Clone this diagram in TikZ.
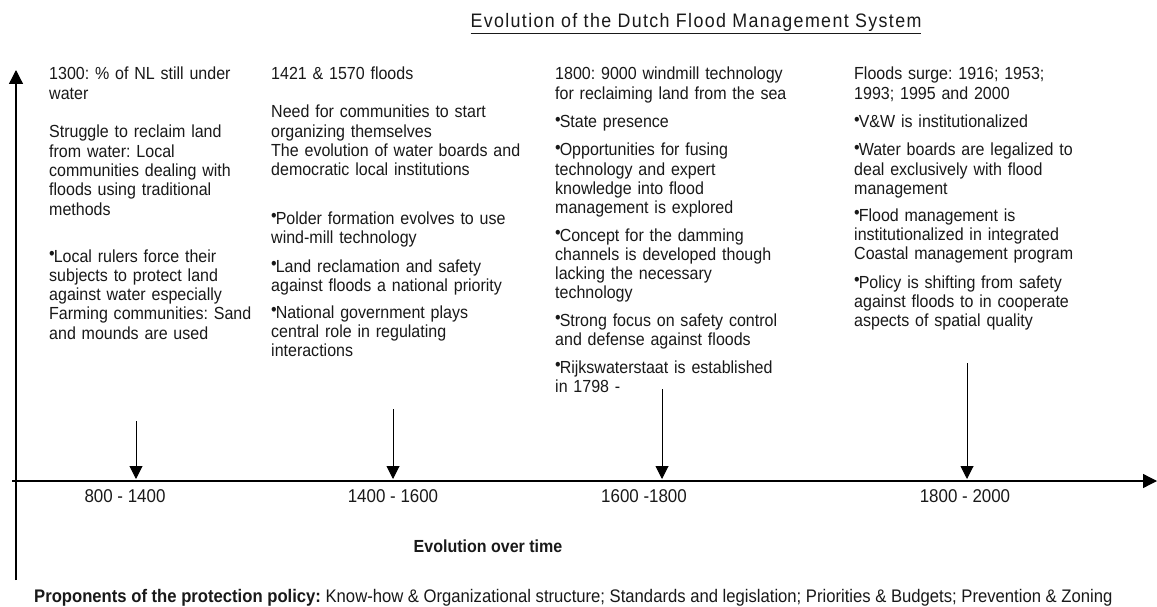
\documentclass[tikz,border=0pt]{standalone}
\usepackage{fontspec}
\setmainfont{Liberation Sans}[FakeStretch=0.915]
\usetikzlibrary{arrows.meta}
\frenchspacing

% solid raised bullet used in the lists
\newcommand{\bul}{\raisebox{0.28ex}{•}\kern-0.06em}

\tikzset{
  para/.style={anchor=base west, inner sep=0pt, text width=300pt, align=left,
               font=\fontsize{17.5}{19.3}\selectfont, text=black!90},
  period/.style={anchor=base, inner sep=0pt, font=\fontsize{18.5}{20}\selectfont, text=black!90},
  axis/.style={line width=1.3pt, -{Triangle[length=14pt,width=14pt]}},
  pointer/.style={line width=1pt, -{Triangle[length=13pt,width=13pt]}},
}

\begin{document}
\begin{tikzpicture}[x=1pt,y=-1pt]
\useasboundingbox[fill=white] (0,0) rectangle (1157,607);

% title
\node[anchor=base, inner sep=0pt, font=\fontsize{19.5}{22}\selectfont\addfontfeatures{LetterSpace=7}, text=black!90]
  (title) at (696,28) {\underline{Evolution of the Dutch Flood Management System}};

% axes
\coordinate (origin) at (16,481);
\coordinate (ybot) at (16,580);
\coordinate (ytop) at (16,70);
\coordinate (xleft) at (12,481);
\coordinate (xright) at (1157,481);
\draw[axis] (ybot) -- (ytop);
\draw[line width=1.3pt] (xleft) -- (origin);
\draw[axis] (origin) -- (xright);

% period pointers
\coordinate (p1top) at (136,421); \coordinate (p1end) at (136,479);
\coordinate (p2top) at (393,409); \coordinate (p2end) at (393,479);
\coordinate (p3top) at (662,389); \coordinate (p3end) at (662,479);
\coordinate (p4top) at (967,363); \coordinate (p4end) at (967,479);
\draw[pointer] (p1top) -- (p1end);
\draw[pointer] (p2top) -- (p2end);
\draw[pointer] (p3top) -- (p3end);
\draw[pointer] (p4top) -- (p4end);

% period labels
\node[period] (t1) at (125,502) {800 - 1400};
\node[period] (t2) at (393,502) {1400 - 1600};
\node[period] (t3) at (644,502) {1600 -1800};
\node[period] (t4) at (965,502) {1800 - 2000};

\node[anchor=base, inner sep=0pt, font=\fontsize{17.5}{19}\bfseries, text=black!90] (evo) at (488,552) {Evolution over time};

% column 1: 800-1400
\node[para] (c1a) at (49,80) {1300: \% of NL still under\\water};
\node[para] (c1b) at (49,138) {Struggle to reclaim land\\from water: Local\\communities dealing with\\floods using traditional\\methods};
\node[para] (c1c) at (49,262) {\bul Local rulers force their\\subjects to protect land\\against water especially\\Farming communities: Sand\\and mounds are used};

% column 2: 1400-1600
\node[para] (c2a) at (271,80) {1421 \& 1570 floods};
\node[para] (c2b) at (271,118) {Need for communities to start\\organizing themselves\\The evolution of water boards and\\democratic local institutions};
\node[para] (c2c) at (271,224) {\bul Polder formation evolves to use\\wind-mill technology};
\node[para] (c2d) at (271,272) {\bul Land reclamation and safety\\against floods a national priority};
\node[para] (c2e) at (271,318) {\bul National government plays\\central role in regulating\\interactions};

% column 3: 1600-1800
\node[para] (c3a) at (555,80) {1800: 9000 windmill technology\\for reclaiming land from the sea};
\node[para] (c3b) at (555,128) {\bul State presence};
\node[para] (c3c) at (555,156) {\bul Opportunities for fusing\\technology and expert\\knowledge into flood\\management is explored};
\node[para] (c3d) at (555,241) {\bul Concept for the damming\\channels is developed though\\lacking the necessary\\technology};
\node[para] (c3e) at (555,326) {\bul Strong focus on safety control\\and defense against floods};
\node[para] (c3f) at (555,373) {\bul Rijkswaterstaat is established\\in 1798 -};

% column 4: 1800-2000
\node[para] (c4a) at (854,80) {Floods surge: 1916; 1953;\\1993; 1995 and 2000};
\node[para] (c4b) at (854,128) {\bul V\&W is institutionalized};
\node[para] (c4c) at (854,156) {\bul Water boards are legalized to\\deal exclusively with flood\\management};
\node[para] (c4d) at (854,221) {\bul Flood management is\\institutionalized in integrated\\Coastal management program};
\node[para] (c4e) at (854,288) {\bul Policy is shifting from safety\\against floods to in cooperate\\aspects of spatial quality};

% policy line
\node[anchor=base west, inner sep=0pt, font=\fontsize{18.2}{20}\selectfont, text=black!90] (policy) at (34,602)
  {\textbf{Proponents of the protection policy:} Know-how \& Organizational structure; Standards and legislation; Priorities \& Budgets; Prevention \& Zoning};
\end{tikzpicture}
\end{document}
